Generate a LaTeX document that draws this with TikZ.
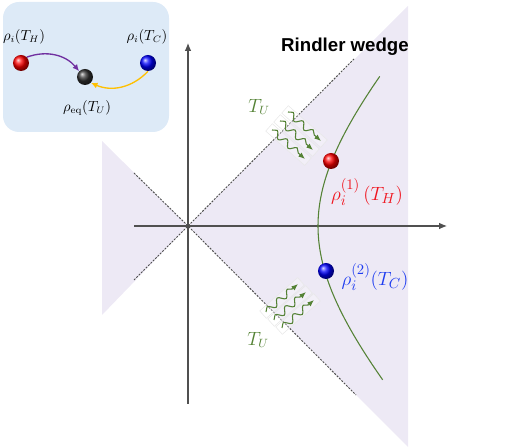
\documentclass[tikz,border=0pt]{standalone}
\usepackage{fontspec}
\newfontfamily\wedgefont{Liberation Sans}
\usetikzlibrary{arrows.meta,decorations.pathmorphing,positioning}
\definecolor{wedgefill}{RGB}{237,233,245}
\definecolor{boxfill}{RGB}{221,234,247}
\definecolor{uhgreen}{RGB}{84,130,53}
\definecolor{hotred}{RGB}{240,20,30}
\definecolor{coldblue}{RGB}{30,60,240}
\definecolor{axisgray}{RGB}{80,80,80}
\definecolor{arrpurple}{RGB}{112,48,160}
\definecolor{arrorange}{RGB}{255,192,0}
\tikzset{
axisline/.style={
  draw=axisgray,
  line width=0.8pt,
  -{Latex[length=6pt,width=5pt]}
  },
cone/.style={
  draw=axisgray,
  line width=0.7pt,
  dash pattern=on 1.5pt off 1pt
  },
sphere/.style={
  circle,
  inner sep=0pt,
  minimum size=12pt,
  shading=ball,
  ball color=#1
  },
radiation/.style={
  uhgreen,
  line width=0.8pt,
  decorate,
  decoration={snake,amplitude=2.4pt,segment length=10pt,post length=5pt},
  -{Latex[length=5pt,width=4pt]}
  },
glowbox/.style={
  draw=gray!18,
  line width=0.4pt,
  fill=white,
  fill opacity=0.3
  },
boxarrow/.style={
  draw=#1,
  line width=1pt,
  -{Latex[length=5pt,width=4.5pt]}
  }
}

\begin{document}
\begin{tikzpicture}[x=0.75pt,y=-0.75pt]
\useasboundingbox (0,0) rectangle (518,448);

% wedges
\coordinate (o) at (188,226);
\fill[wedgefill] (o) -- (408,6) -- (408,447) -- cycle;
\fill[wedgefill] (o) -- (102,141) -- (102,315) -- cycle;

% inset box
\fill[boxfill,rounded corners=12pt] (3,2) rectangle (169,132);

% axes
\coordinate (ybot) at (188,404);
\coordinate (ytop) at (188,43);
\coordinate (xleft) at (134,226);
\coordinate (xright) at (447,226);
\draw[axisline] (ybot) -- (ytop);
\draw[axisline] (xleft) -- (xright);

% light cone
\coordinate (ul) at (134,173);
\coordinate (ll) at (134,280);
\coordinate (ur) at (355,58);
\coordinate (lr) at (356,395);
\draw[cone] (ul) -- (o) -- (lr);
\draw[cone] (ll) -- (o) -- (ur);

% accelerated worldline
\draw[uhgreen,line width=0.8pt]
  plot[domain=-0.96:0.94,variable=\t,samples=50,smooth]
  ({188+130*cosh(\t)},{226-138*sinh(\t)});

\node[sphere=red] (hotdot) at (331,161) {};
\node[sphere=blue] (colddot) at (326,271) {};
\node[text=hotred,font=\fontsize{15}{17}\selectfont] (hotlabel) at (367,192)
  {$\rho_i^{(1)}\,(T_H)$};
\node[text=coldblue,font=\fontsize{15}{17}\selectfont] (coldlabel) at (375,277)
  {$\rho_i^{(2)}(T_C)$};

\node[font=\wedgefont\bfseries\fontsize{14}{17}\selectfont] (wedge) at (345,47)
  {Rindler wedge};

% Unruh radiation
\foreach \i in {0,1,2} {
  \coordinate (in\i) at ({272+8*\i},{130-9*\i});
  \coordinate (out\i) at ({305+8*\i},{159-9*\i});
  \path[glowbox] ({272+8*\i-3+3.3},{130-9*\i-2.6-3.7})
    -- ({305+8*\i+3+3.3},{159-9*\i+2.6-3.7})
    -- ({305+8*\i+3-3.3},{159-9*\i+2.6+3.7})
    -- ({272+8*\i-3-3.3},{130-9*\i-2.6+3.7}) -- cycle;
  \draw[radiation] (in\i) -- (out\i);
  \coordinate (up\i) at ({266+8*\i},{312+8*\i});
  \coordinate (tip\i) at ({298+8*\i},{284+8*\i});
  \path[glowbox] ({266+8*\i-3+3.3},{312+8*\i+2.6+3.7})
    -- ({298+8*\i+3+3.3},{284+8*\i-2.6+3.7})
    -- ({298+8*\i+3-3.3},{284+8*\i-2.6-3.7})
    -- ({266+8*\i-3-3.3},{312+8*\i+2.6-3.7}) -- cycle;
  \draw[radiation] (up\i) -- (tip\i);
}
\node[text=uhgreen,font=\fontsize{13.5}{16}\selectfont] (tuupper) at (259,107) {$T_U$};
\node[text=uhgreen,font=\fontsize{13.5}{16}\selectfont] (tulower) at (258,340) {$T_U$};

% inset content
\node[sphere=red] (hball) at (21,63) {};
\node[sphere=black!80] (eqball) at (85,77) {};
\node[sphere=blue] (cball) at (148,63) {};
\node[font=\fontsize{10.5}{12}\selectfont] (hlabel) at (24,37) {$\rho_i(T_H)$};
\node[font=\fontsize{10.5}{12}\selectfont] (clabel) at (147,37) {$\rho_i(T_C)$};
\node[font=\fontsize{10.5}{12}\selectfont] (eqlabel) at (87,108) {$\rho_{\mathrm{eq}}(T_U)$};
\draw[boxarrow=arrpurple] (hball.north east) to[bend left=35] (eqball.north west);
\draw[boxarrow=arrorange] (cball.south) to[bend left=35] (eqball.south east);
\end{tikzpicture}
\end{document}
